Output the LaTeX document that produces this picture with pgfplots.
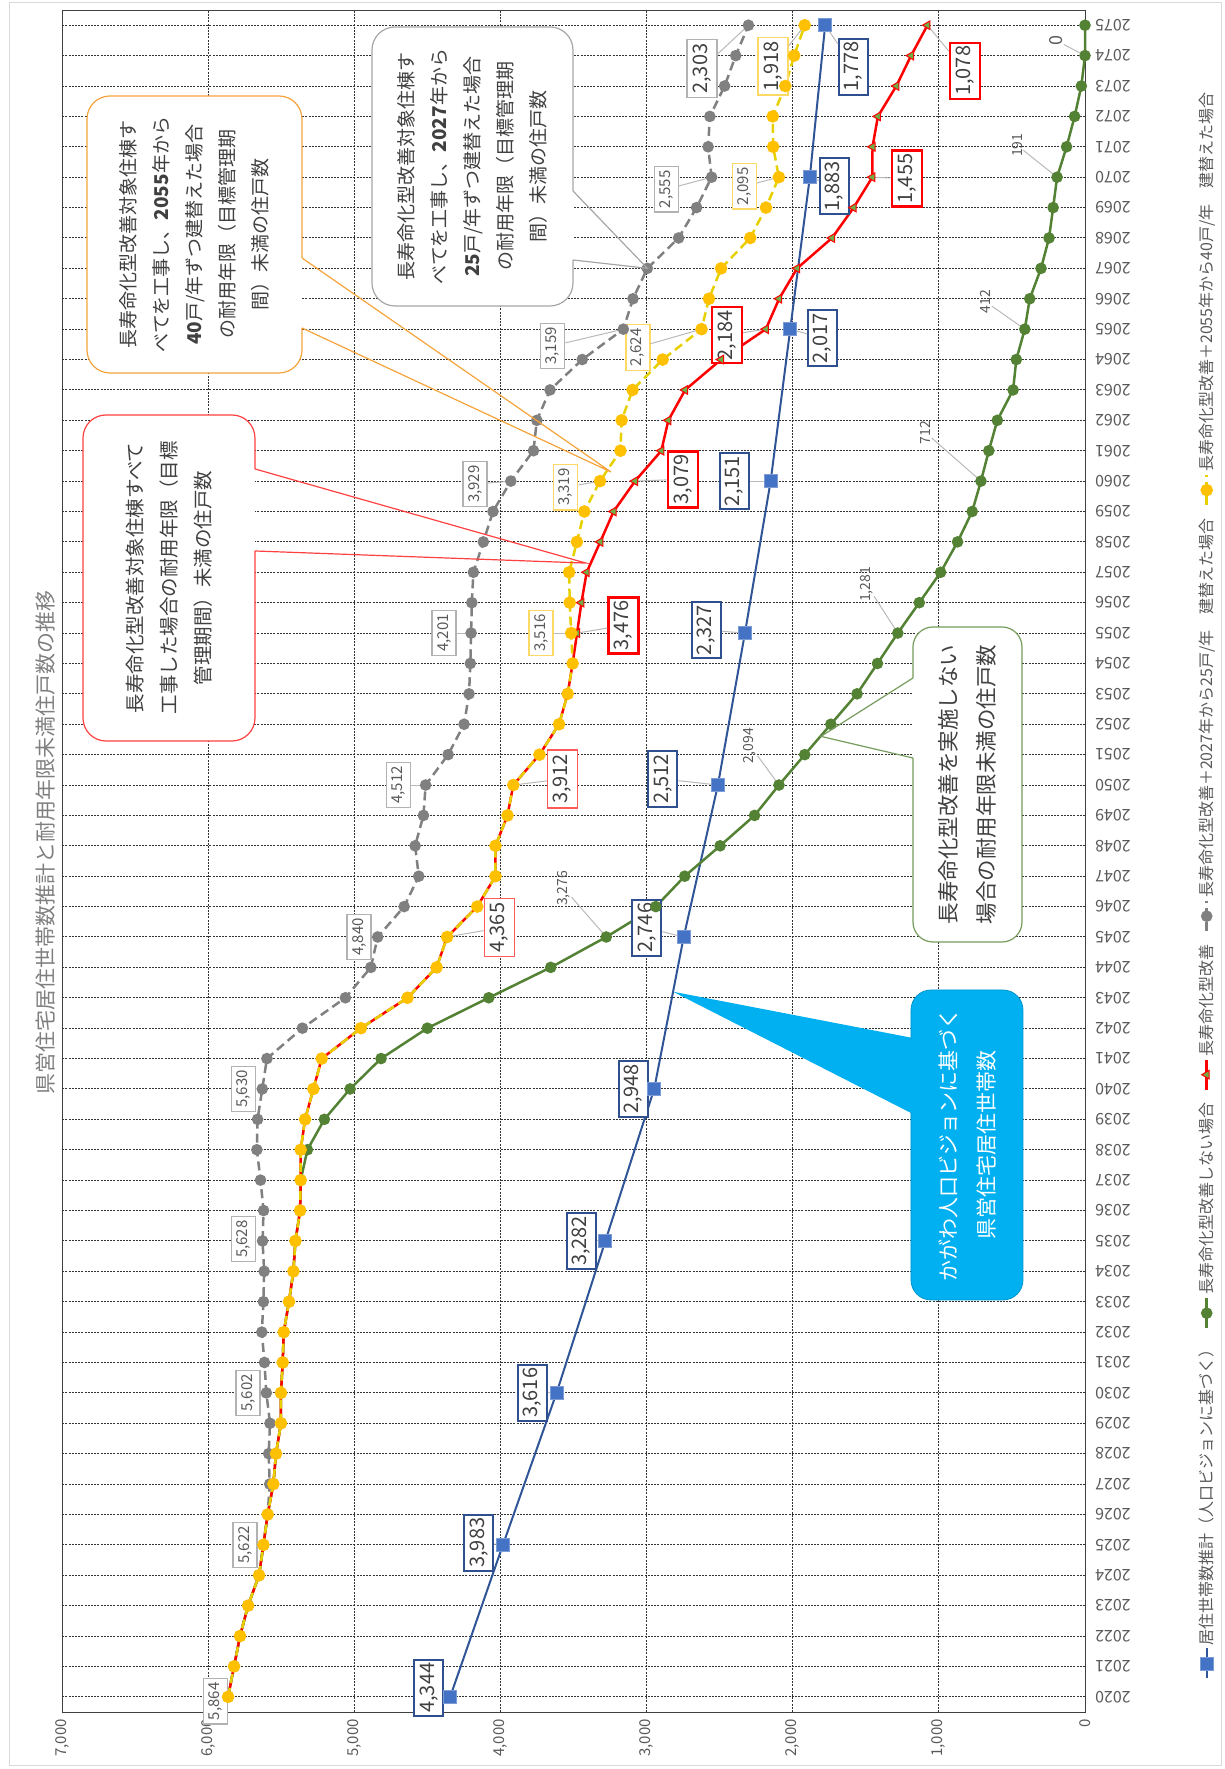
\documentclass[border=0pt]{standalone}
\usepackage{fontspec}
\setmainfont{Noto Sans CJK JP}
\usepackage{pgfplots}
\pgfplotsset{compat=1.18}
\definecolor{cblue}{HTML}{2F5597}
\definecolor{cbluefill}{HTML}{4472C4}
\definecolor{cbluelab}{HTML}{2F4F8F}
\definecolor{cgreen}{HTML}{548235}
\definecolor{ctri}{HTML}{70AD47}
\definecolor{cgrey}{HTML}{808080}
\definecolor{cyline}{HTML}{E6D000}
\definecolor{cymark}{HTML}{FFC000}
\definecolor{cylab}{HTML}{FFD966}
\definecolor{ctick}{HTML}{595959}
\definecolor{ctitle}{HTML}{7F7F7F}
\definecolor{ccyan}{HTML}{00B0F0}
\definecolor{corange}{HTML}{F5A33A}
\definecolor{ctext}{HTML}{404040}
\tikzset{
  bl/.style={draw=cbluelab, line width=2pt, fill=white, text=ctext, font=\fontsize{20}{20}\selectfont, inner xsep=3pt, inner ysep=0pt, minimum height=29pt},
  rl/.style={draw=red, line width=2.5pt, fill=white, text=ctext, font=\fontsize{20}{20}\selectfont, inner xsep=3pt, inner ysep=0pt, minimum height=30pt},
  rlt/.style={draw=red!65, line width=1.2pt, fill=white, text=ctext, font=\fontsize{20}{20}\selectfont, inner xsep=4pt, inner ysep=0pt, minimum height=30pt},
  gs/.style={draw=gray!60, line width=1.2pt, fill=white, text=ctick, font=\fontsize{15}{15}\selectfont, inner xsep=4pt, inner ysep=0pt, minimum height=24pt},
  gb/.style={draw=gray!60, line width=1.5pt, fill=white, text=ctext, font=\fontsize{20}{20}\selectfont, inner xsep=4pt, inner ysep=0pt, minimum height=30pt},
  ys/.style={draw=cylab, line width=1.2pt, fill=white, text=ctick, font=\fontsize{15}{15}\selectfont, inner xsep=4pt, inner ysep=0pt, minimum height=24pt},
  yb/.style={draw=cylab, line width=1.5pt, fill=white, text=ctext, font=\fontsize{20}{20}\selectfont, inner xsep=4pt, inner ysep=0pt, minimum height=30pt},
  gn/.style={text=ctick, font=\fontsize{14}{14}\selectfont, inner sep=1pt},
  lead/.style={gray!55, line width=1pt, shorten >=3pt},
}
\begin{document}
\begin{tikzpicture}[rotate=90, transform shape, x=1pt, y=1pt]
\path[use as bounding box] (0,0) rectangle (1769,1224);
\draw[gray!30, line width=1pt] (3,3) rectangle (1766,1214);
\node[font=\fontsize{21}{21}\selectfont, text=ctitle] at (926,1178) {県営住宅居住世帯数推計と耐用年限未満住戸数の推移};
\begin{axis}[
  at={(57pt,139pt)}, anchor=south west, scale only axis,
  width=1702pt, height=1023pt,
  xmin=2019.5, xmax=2075.5, ymin=0, ymax=7000,
  xtick={2020,2021,...,2075}, ytick={0,1000,...,7000},
  grid=major,
  grid style={black!80, line width=1pt, dash pattern=on 2pt off 1.2pt},
  axis line style={black!75, line width=1pt},
  major tick length=0pt,
  /pgf/number format/assume math mode=true,
  xticklabel style={font=\fontsize{16}{16}\selectfont, text=ctick, rotate=90, anchor=east, inner xsep=10pt, /pgf/number format/1000 sep={}},
  yticklabel style={font=\fontsize{15}{15}\selectfont, text=ctick, inner xsep=7pt, /pgf/number format/1000 sep={,}},
  clip=false,
  legend columns=5,
  legend style={at={(0.486,-0.119)}, anchor=center, draw=none, fill=none,
    font=\fontsize{16}{18}\selectfont, text=ctick,
    /tikz/every even column/.append style={column sep=10pt}},
  legend image code/.code={\draw[mark repeat=2,mark phase=2,#1] plot coordinates {(0pt,0pt) (15pt,0pt) (30pt,0pt)};},
]
% blue
\addplot[color=cblue, line width=2pt, mark=square*, mark size=6.5pt, mark options={fill=cbluefill, draw=cbluefill!70!white, line width=0.8pt}] coordinates {
(2020,4344)(2025,3983)(2030,3616)(2035,3282)(2040,2948)(2045,2746)(2050,2512)(2055,2327)(2060,2151)(2065,2017)(2070,1883)(2075,1778)};
\addlegendentry{居住世帯数推計（人口ビジョンに基づく）}
% green
\addplot[color=cgreen, line width=2.5pt, mark=*, mark size=4.5pt, mark options={fill=cgreen, draw=cgreen}] coordinates {
(2020,5864)(2021,5823)(2022,5782)(2023,5727)(2024,5652)(2025,5622)(2026,5593)(2027,5554)(2028,5536)(2029,5502)(2030,5502)(2031,5490)(2032,5483)(2033,5447)(2034,5417)(2035,5403)(2036,5371)(2037,5367)
(2038,5321)(2039,5205)(2040,5029)(2041,4817)(2042,4500)(2043,4080)(2044,3656)(2045,3276)(2046,2937)(2047,2739)(2048,2497)(2049,2261)(2050,2094)(2051,1918)(2052,1739)(2053,1560)(2054,1420)(2055,1281)(2056,1134)(2057,988)(2058,872)(2059,772)(2060,712)(2061,658)(2062,600)(2063,492)(2064,470)(2065,412)(2066,378)(2067,301)(2068,246)(2069,218)(2070,191)(2071,126)(2072,71)(2073,25)(2074,0)(2075,0)};
\addlegendentry{長寿命化型改善しない場合}
% red
\addplot[color=red, line width=2.5pt, mark=triangle*, mark size=5pt, mark options={fill=ctri, draw=red, line width=1pt}] coordinates {
(2020,5864)(2021,5823)(2022,5782)(2023,5727)(2024,5652)(2025,5622)(2026,5593)(2027,5554)(2028,5536)(2029,5502)(2030,5502)(2031,5490)(2032,5483)(2033,5447)(2034,5417)(2035,5403)(2036,5371)(2037,5367)(2038,5367)(2039,5337)(2040,5280)(2041,5223)(2042,4955)(2043,4636)(2044,4437)(2045,4365)(2046,4159)(2047,4034)(2048,4034)(2049,3952)(2050,3912)(2051,3733)(2052,3599)(2053,3540)(2054,3506)(2055,3476)(2056,3446)(2057,3410)(2058,3317)(2059,3226)(2060,3079)(2061,2899)(2062,2851)(2063,2736)(2064,2490)(2065,2184)(2066,2093)(2067,1970)(2068,1731)(2069,1583)(2070,1455)(2071,1454)(2072,1417)(2073,1291)(2074,1190)(2075,1078)};
\addlegendentry{長寿命化型改善}
% grey
\addplot[color=cgrey, line width=2.5pt, dash pattern=on 9pt off 5pt, mark=*, mark size=4.5pt, mark options={solid, fill=cgrey, draw=cgrey}] coordinates {
(2020,5864)(2021,5823)(2022,5782)(2023,5727)(2024,5652)(2025,5622)(2026,5593)(2027,5579)(2028,5586)(2029,5577)(2030,5602)(2031,5615)(2032,5633)(2033,5622)(2034,5617)(2035,5628)(2036,5621)(2037,5642)(2038,5667)(2039,5662)(2040,5630)(2041,5598)(2042,5355)(2043,5061)(2044,4887)(2045,4840)(2046,4659)(2047,4559)(2048,4584)(2049,4527)(2050,4512)(2051,4358)(2052,4249)(2053,4215)(2054,4206)(2055,4201)(2056,4196)(2057,4185)(2058,4117)(2059,4051)(2060,3929)(2061,3774)(2062,3751)(2063,3661)(2064,3440)(2065,3159)(2066,3093)(2067,2995)(2068,2781)(2069,2658)(2070,2555)(2071,2579)(2072,2567)(2073,2466)(2074,2390)(2075,2303)};
\addlegendentry{長寿命化型改善＋2027年から25戸/年　建替えた場合}
% yellow
\addplot[color=cyline, line width=2.5pt, dash pattern=on 9pt off 5pt, mark=*, mark size=5pt, mark options={solid, fill=cymark, draw=cymark}] coordinates {
(2020,5864)(2021,5823)(2022,5782)(2023,5727)(2024,5652)(2025,5622)(2026,5593)(2027,5554)(2028,5536)(2029,5502)(2030,5502)(2031,5490)(2032,5483)(2033,5447)(2034,5417)(2035,5403)(2036,5371)(2037,5367)(2038,5367)(2039,5337)(2040,5280)(2041,5223)(2042,4955)(2043,4636)(2044,4437)(2045,4365)(2046,4159)(2047,4034)(2048,4034)(2049,3952)(2050,3912)(2051,3733)(2052,3599)(2053,3540)(2054,3506)(2055,3516)(2056,3526)(2057,3530)(2058,3477)(2059,3426)(2060,3319)(2061,3179)(2062,3171)(2063,3096)(2064,2890)(2065,2624)(2066,2573)(2067,2490)(2068,2291)(2069,2183)(2070,2095)(2071,2134)(2072,2137)(2073,2051)(2074,1990)(2075,1918)};
\addlegendentry{長寿命化型改善＋2055年から40戸/年　建替えた場合}

% blue labels
\node[bl] (b1) at (axis cs:2020.3,4489) {4,344}; \draw[lead] (b1) -- (axis cs:2020,4344);
\node[bl] (b2) at (axis cs:2025.07,4149) {3,983}; \draw[lead] (b2) -- (axis cs:2025,3983);
\node[bl] (b3) at (axis cs:2030,3782) {3,616}; \draw[lead] (b3) -- (axis cs:2030,3616);
\node[bl] (b4) at (axis cs:2035,3447) {3,282}; \draw[lead] (b4) -- (axis cs:2035,3282);
\node[bl] (b5) at (axis cs:2040,3090) {2,948}; \draw[lead] (b5) -- (axis cs:2040,2948);
\node[bl] (b6) at (axis cs:2045.3,2999) {2,746}; \draw[lead] (b6) -- (axis cs:2045,2746);
\node[bl] (b7) at (axis cs:2050.2,2888) {2,512}; \draw[lead] (b7) -- (axis cs:2050,2512);
\node[bl] (b8) at (axis cs:2055.1,2591) {2,327}; \draw[lead] (b8) -- (axis cs:2055,2327);
\node[bl] (b9) at (axis cs:2060,2398) {2,151}; \draw[lead] (b9) -- (axis cs:2060,2151);
\node[bl] (b10) at (axis cs:2064.7,1796) {2,017}; \draw[lead] (b10) -- (axis cs:2065,2017);
\node[bl] (b11) at (axis cs:2069.7,1716) {1,883}; \draw[lead] (b11) -- (axis cs:2070,1883);
\node[bl] (b12) at (axis cs:2073.64,1586) {1,778}; \draw[lead] (b12) -- (axis cs:2075,1778);
% red labels
\node[rlt] (r1) at (axis cs:2045.3,4009) {4,365}; \draw[lead] (r1) -- (axis cs:2045,4365);
\node[rlt] (r2) at (axis cs:2050.2,3575) {3,912}; \draw[lead] (r2) -- (axis cs:2050,3912);
\node[rl] (r3) at (axis cs:2055.25,3158) {3,476}; \draw[lead] (r3) -- (axis cs:2055,3476);
\node[rl] (r4) at (axis cs:2060.06,2751) {3,079}; \draw[lead] (r4) -- (axis cs:2060,3079);
\node[rl] (r5) at (axis cs:2064.8,2450) {2,184}; \draw[lead] (r5) -- (axis cs:2065,2184);
\node[rl] (r6) at (axis cs:2069.95,1218) {1,455}; \draw[lead] (r6) -- (axis cs:2070,1455);
\node[rl] (r7) at (axis cs:2073.5,821) {1,078}; \draw[lead] (r7) -- (axis cs:2075,1078);
% grey labels
\node[gs] (g1) at (axis cs:2019.85,5950) {5,864};
\node[gs] (g2) at (axis cs:2025,5748) {5,622};
\node[gs] (g3) at (axis cs:2030,5727) {5,602};
\node[gs] (g4) at (axis cs:2035.06,5757) {5,628};
\node[gs] (g5) at (axis cs:2040,5757) {5,630};
\node[gs] (g6) at (axis cs:2045,4968) {4,840};
\node[gs] (g7) at (axis cs:2050,4698) {4,512}; \draw[lead] (g7) -- (axis cs:2050,4512);
\node[gs] (g8) at (axis cs:2055,4386) {4,201}; \draw[lead] (g8) -- (axis cs:2055,4201);
\node[gs] (g9) at (axis cs:2059.9,4174) {3,929}; \draw[lead] (g9) -- (axis cs:2060,3929);
\node[gs] (g10) at (axis cs:2064.45,3642) {3,159}; \draw[lead] (g10) -- (axis cs:2065,3159);
\node[gs] (g11) at (axis cs:2069.6,2865) {2,555}; \draw[lead] (g11) -- (axis cs:2070,2555);
\node[gb] (g12) at (axis cs:2073.57,2622) {2,303}; \draw[lead] (g12) -- (axis cs:2075,2303);
% yellow labels
\node[ys] (y1) at (axis cs:2055,3722) {3,516}; \draw[lead] (y1) -- (axis cs:2055,3516);
\node[ys] (y2) at (axis cs:2059.8,3553) {3,319}; \draw[lead] (y2) -- (axis cs:2060,3319);
\node[ys] (y3) at (axis cs:2064.4,3059) {2,624}; \draw[lead] (y3) -- (axis cs:2065,2624);
\node[ys] (y4) at (axis cs:2069.7,2330) {2,095}; \draw[lead] (y4) -- (axis cs:2070,2095);
\node[yb] (y5) at (axis cs:2073.65,2136) {1,918}; \draw[lead] (y5) -- (axis cs:2075,1918);
% green labels
\node[gn] (n1) at (axis cs:2046.6,3566) {3,276}; \draw[lead] (n1) -- (axis cs:2045,3276);
\node[gn] (n2) at (axis cs:2051.3,2292) {2,094}; \draw[lead] (n2) -- (axis cs:2050,2094);
\node[gn] (n3) at (axis cs:2056.6,1496) {1,281}; \draw[lead] (n3) -- (axis cs:2055,1281);
\node[gn] (n4) at (axis cs:2061.6,1092) {712}; \draw[lead] (n4) -- (axis cs:2060,712);
\node[gn] (n5) at (axis cs:2065.9,680) {412}; \draw[lead] (n5) -- (axis cs:2065,412);
\node[gn] (n6) at (axis cs:2071.05,465) {191}; \draw[lead] (n6) -- (axis cs:2070,191);
\node[gn, font=\fontsize{18}{18}\selectfont] (n7) at (axis cs:2074.5,198) {0}; \draw[lead] (n7) -- (axis cs:2074,0);
\end{axis}

% ---- callouts (picture coordinates; tips computed from data positions) ----
% orange -> yellow line near 2060.3
\path[fill=white, draw=corange, line width=1.2pt, rounded corners=23pt] (1511,922) -- (1673,922) -- (1673,1137) -- (1396,1137) -- (1396,922) -- (1441,922);
\draw[corange, line width=1.2pt] (1441,922) -- (1297,613) -- (1511,922);
\node[font=\fontsize{19}{33}\selectfont, align=center, text=ctext] at (1534.5,1029.5) {長寿命化型改善対象住棟す\\べてを工事し、\textbf{2055}年から\\\textbf{40}戸/年ずつ建替えた場合\\の耐用年限（目標管理期\\間）未満の住戸数};
% grey -> grey line at 2067
\path[fill=white, draw=gray!70, line width=1.2pt, rounded corners=23pt] (1578,651) -- (1742,651) -- (1742,852) -- (1463,852) -- (1463,651) -- (1509,651);
\draw[gray!70, line width=1.2pt] (1509,651) -- (1500.7,576.7) -- (1578,651);
\node[font=\fontsize{19}{33}\selectfont, align=center, text=ctext] at (1602.5,751.5) {長寿命化型改善対象住棟す\\べてを工事し、\textbf{2027}年から\\\textbf{25}戸/年ずつ建替えた場合\\の耐用年限（目標管理期\\間）未満の住戸数};
% red -> red line near 2057.3
\path[fill=white, draw=red!75, line width=1.2pt, rounded corners=23pt] (1300,969) -- (1354,969) -- (1354,1141) -- (1028,1141) -- (1028,969) -- (1218,969);
\draw[red!75, line width=1.2pt] (1218,969) -- (1205.9,638.1) -- (1300,969);
\node[font=\fontsize{19.5}{34}\selectfont, align=center, text=ctext] at (1191,1055) {長寿命化型改善対象住棟すべて\\工事した場合の耐用年限（目標\\管理期間）未満の住戸数};
% green -> green line near 2051.6
\path[fill=white, draw=cgreen!80, line width=1.2pt, rounded corners=20pt] (1011,311) -- (827,311) -- (827,202) -- (1142,202) -- (1142,311) -- (1091,311);
\draw[cgreen!80, line width=1.2pt] (1011,311) -- (1032.6,403.1) -- (1091,311);
\node[font=\fontsize{21.5}{38}\selectfont, align=center, text=ctext] at (984.5,256.5) {長寿命化型改善を実施しない\\場合の耐用年限未満の住戸数};
% blue -> blue line near 2043.2
\fill[ccyan] (655,311) -- (777.3,551) -- (731,311) -- cycle;
\draw[fill=ccyan, draw=ccyan!85!black, line width=0.8pt, rounded corners=20pt] (469,201) rectangle (779,313);
\fill[ccyan] (657,305) rectangle (729,313.5);
\node[font=\fontsize{21}{38}\selectfont, align=center, text=white] at (624,257) {かがわ人口ビジョンに基づく\\県営住宅居住世帯数};
\end{tikzpicture}
\end{document}
